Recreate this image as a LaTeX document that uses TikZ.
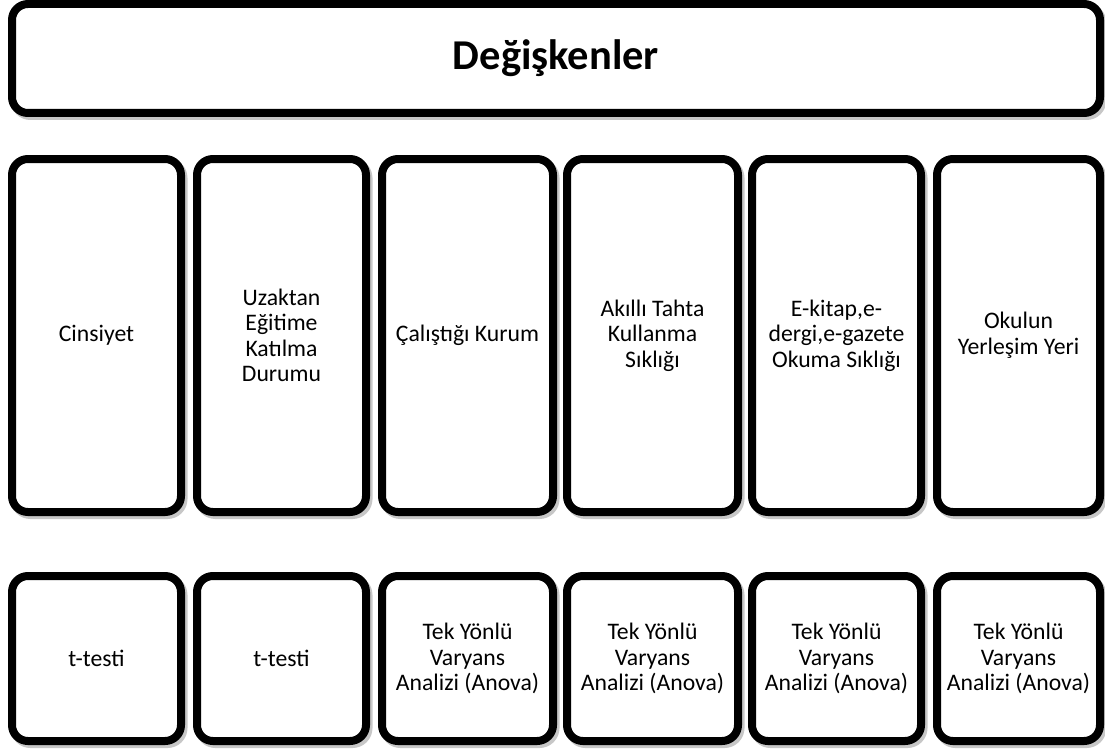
\documentclass[tikz,border=0pt]{standalone}
\usepackage{fontspec}
\setmainfont{Carlito}
\begin{document}
\begin{tikzpicture}[x=1pt,y=-1pt,
  box/.style={draw=black, line width=8pt, rounded corners=16pt, fill=white,
    align=center, inner sep=0pt, text=black,
    font=\fontsize{23.7}{25.5}\selectfont,
    preaction={draw=black!22, line width=8pt,
      transform canvas={xshift=2.5pt,yshift=-3pt}}},
  titlebox/.style={box, font=\fontsize{42.5}{46}\selectfont\bfseries},
  colbox/.style={box, minimum height=353pt},
  testbox/.style={box, minimum height=165pt}]
\useasboundingbox (0,0) rectangle (1105,749);
% title
\node[titlebox, minimum width=1088pt, minimum height=109pt] (title) at (556,58.5) {Değişkenler};
% variable columns
\node[colbox, minimum width=169pt] (v1) at (96.5,335.5) {Cinsiyet};
\node[colbox, minimum width=169pt] (v2) at (281.5,335.5) {Uzaktan\\Eğitime\\Katılma\\Durumu};
\node[colbox, minimum width=171pt] (v3) at (467.5,335.5) {Çalıştığı Kurum};
\node[colbox, minimum width=171pt] (v4) at (652.5,335.5) {Akıllı Tahta\\Kullanma\\Sıklığı};
\node[colbox, minimum width=169pt] (v5) at (836.5,335.5) {E-kitap,e-\\dergi,e-gazete\\Okuma Sıklığı};
\node[colbox, minimum width=163pt] (v6) at (1018.5,335.5) {Okulun\\Yerleşim Yeri};
% tests
\node[testbox, minimum width=169pt] (t1) at (96.5,658.5) {t-testi};
\node[testbox, minimum width=169pt] (t2) at (281.5,658.5) {t-testi};
\node[testbox, minimum width=171pt] (t3) at (467.5,658.5) {Tek Yönlü\\Varyans\\Analizi (Anova)};
\node[testbox, minimum width=171pt] (t4) at (652.5,658.5) {Tek Yönlü\\Varyans\\Analizi (Anova)};
\node[testbox, minimum width=169pt] (t5) at (836.5,658.5) {Tek Yönlü\\Varyans\\Analizi (Anova)};
\node[testbox, minimum width=163pt] (t6) at (1018.5,658.5) {Tek Yönlü\\Varyans\\Analizi (Anova)};
\end{tikzpicture}
\end{document}
